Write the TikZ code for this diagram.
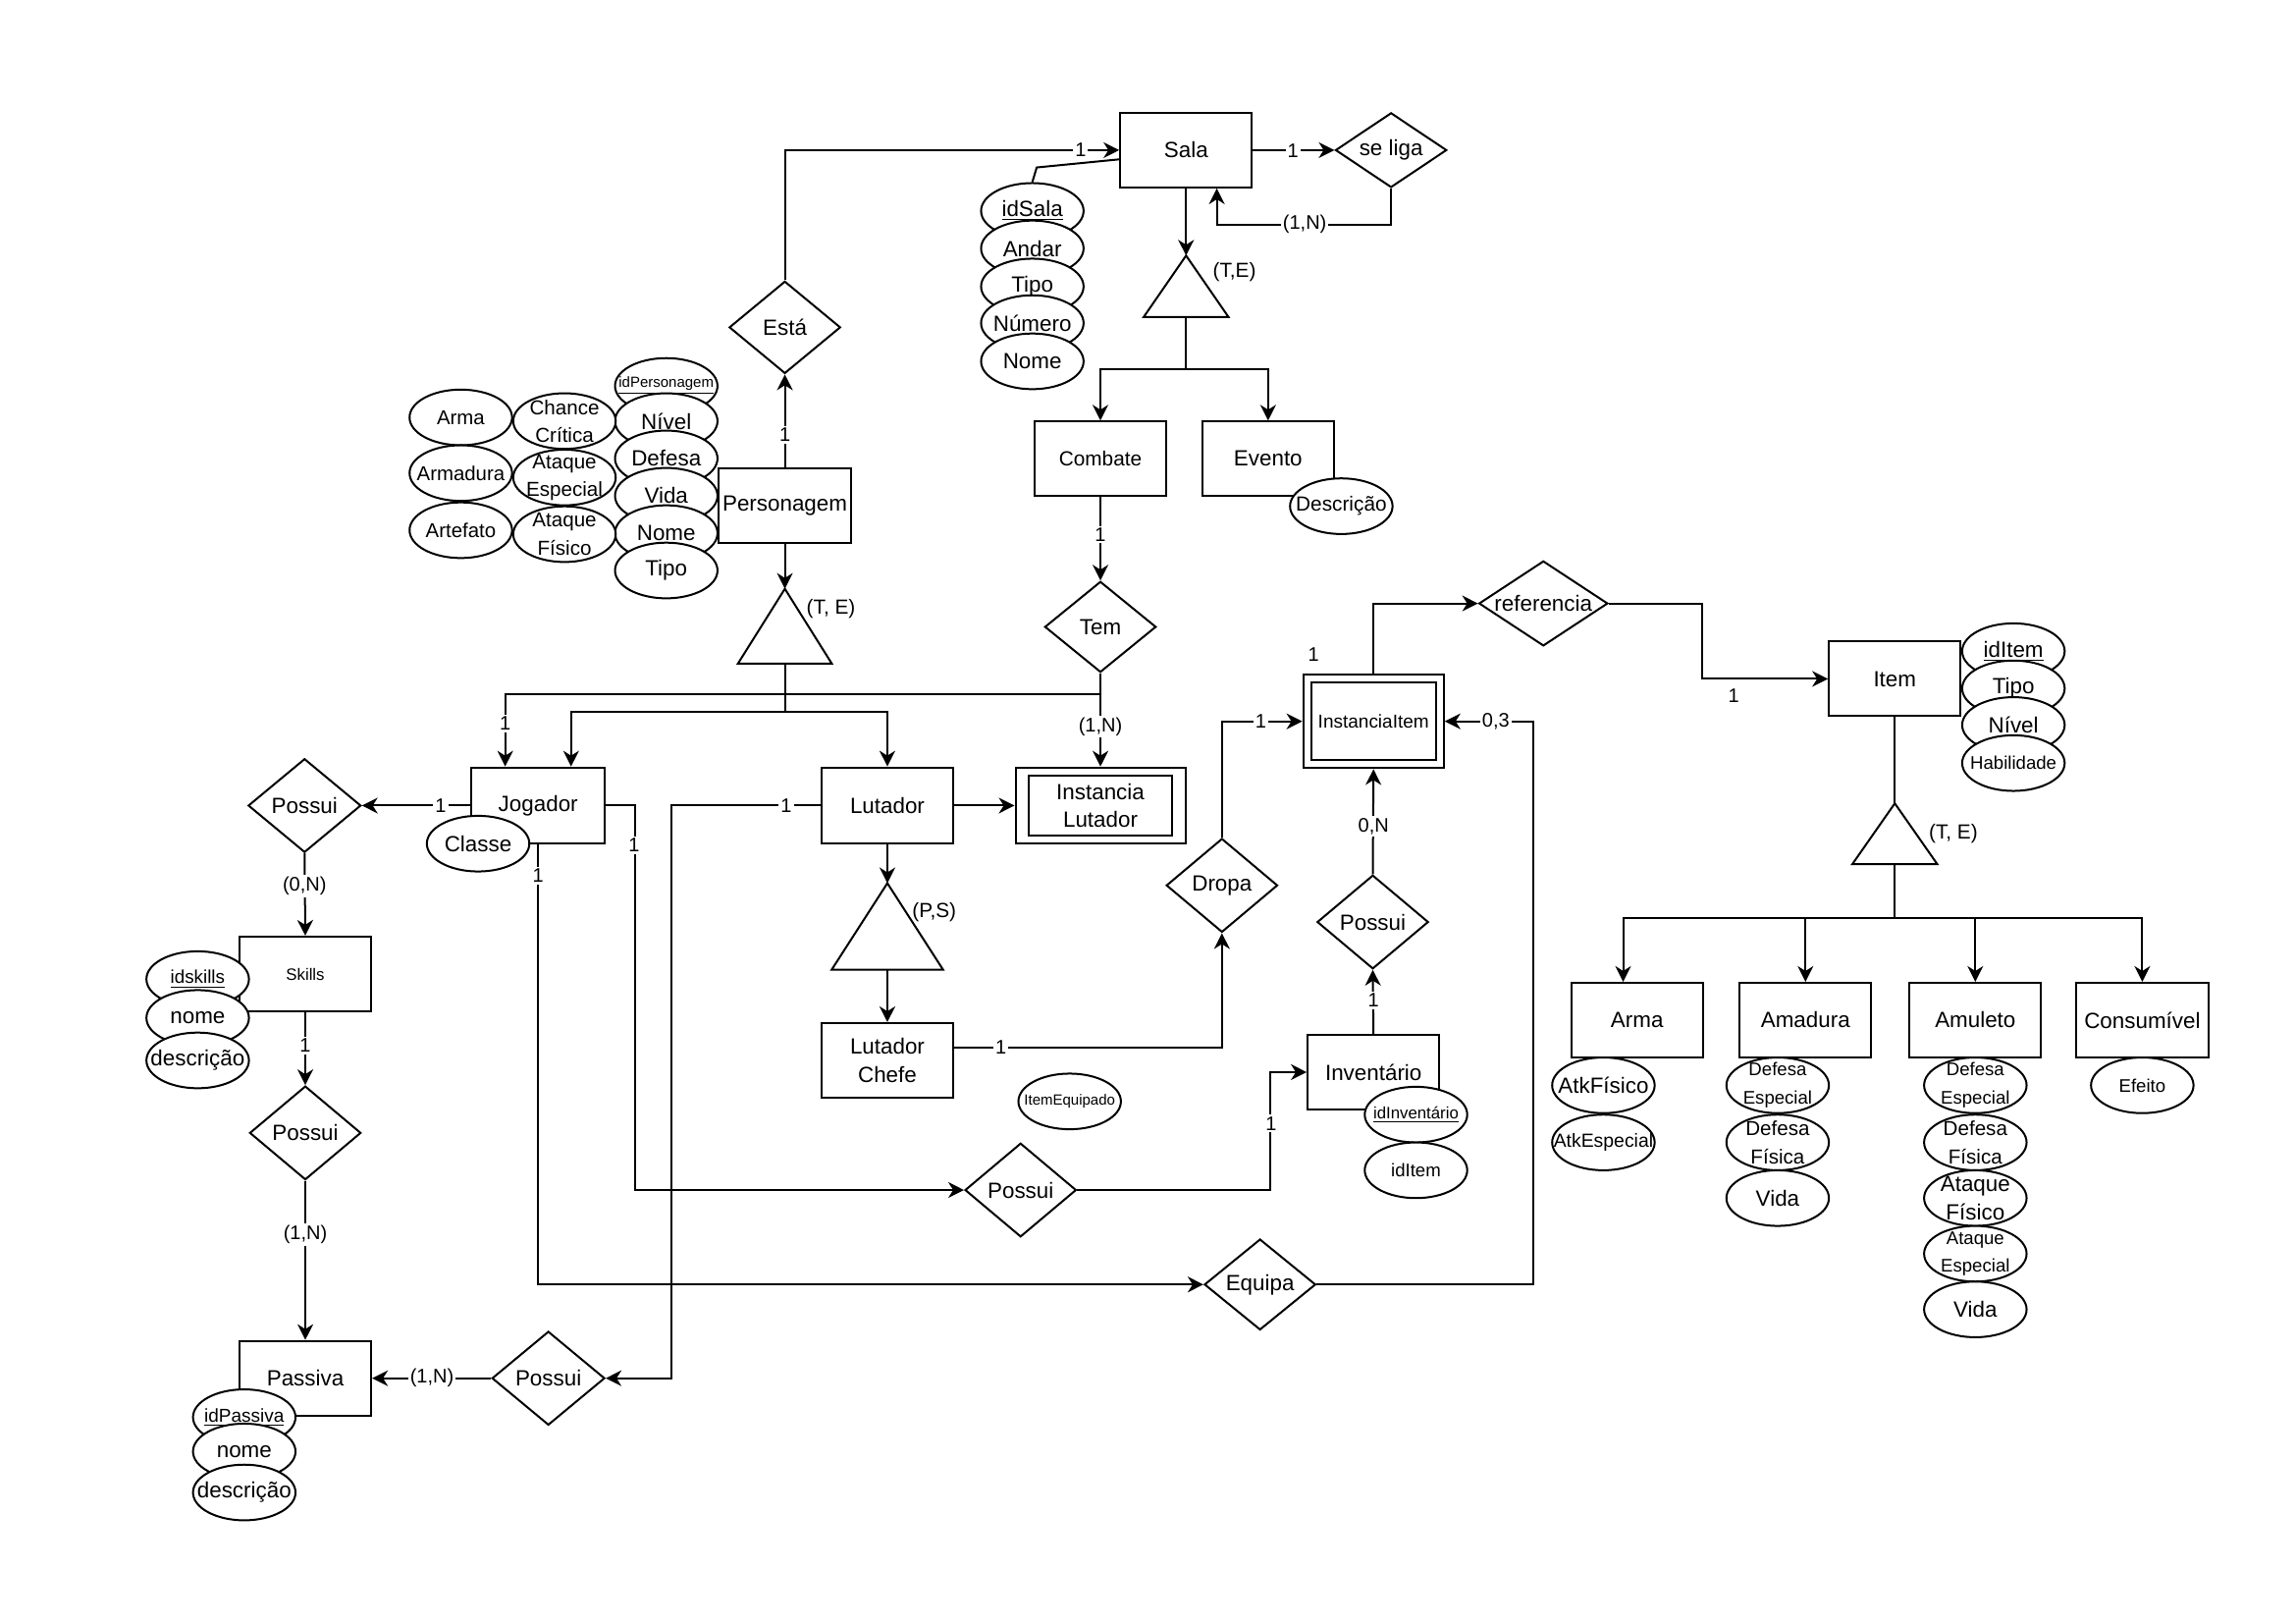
\documentclass[tikz,border=0pt]{standalone}
\usepackage{fontspec}
\setmainfont{Liberation Sans}
\usetikzlibrary{shapes.geometric,arrows.meta,calc}
\newlength\ux
\setlength\ux{0.74592pt}
\newcommand\fsz[1]{\fontsize{#1}{14.2pt}\selectfont}
\newcommand\myattr[4]{\node[att] (#1) at (#2) {};\node[atxt,font=\fsz{#3}] at (#1.center) {#4};}
\newcommand\myrel[5]{\node[rel,minimum width=#3\ux,minimum height=#4\ux] (#1) at (#2) {};\node[atxt] at (#1.center) {#5};}
\tikzset{
 cn/.style={line width=1pt, line join=miter},
 arr/.style={cn, -{Stealth[length=8pt,width=8pt,inset=2.5pt]}},
 ent/.style={draw, cn, fill=white, rectangle, minimum width=90\ux, minimum height=51\ux, inner sep=0pt, align=center, font=\fsz{11.2pt}},
 rel/.style={draw, cn, fill=white, diamond, inner sep=0pt},
 att/.style={draw, cn, fill=white, ellipse, minimum width=70\ux, minimum height=38\ux, inner sep=0pt},
 atxt/.style={inner sep=0pt, align=center, font=\fsz{11.2pt}},
 lbl/.style={fill=white, inner sep=1pt, font=\fsz{10pt}},
 gtxt/.style={inner sep=0pt, font=\fsz{10.4pt}},
}
\begin{document}
\begin{tikzpicture}[x=\ux, y=-\ux]
\fill[white] (0,0) rectangle (1568,1108);
\useasboundingbox (0,0) rectangle (1568,1108);

% ---- Sala ----
\node[ent] (sala) at (810,102.5) {Sala};
\myrel{seliga}{950,102.5}{76}{51}{se liga}
\myattr{idsala}{705,144}{11.2pt}{\underline{idSala}}
\myattr{andar}{705,169.6}{11.2pt}{Andar}
\myattr{stipo}{705,195.6}{11.2pt}{Tipo}
\myattr{snum}{705,220.6}{11.2pt}{Número}
\myattr{snome}{705,246.7}{11.2pt}{Nome}
\coordinate (sta) at (810,174.5);
\coordinate (stb) at (810,216.5);
\draw[cn] (sta) -- (839,216.5) -- (781,216.5) -- cycle;
\node[gtxt] at (843,186) {(T,E)};

\node[ent,font=\fsz{10.4pt}] (comb) at (751.5,313.3) {Combate};
\node[ent] (evt) at (866,313.3) {Evento};
\myattr{desc}{916,345.6}{10.4pt}{Descrição}
\myrel{tem}{751.5,428}{76}{62}{Tem}
\myrel{esta}{536,223.5}{76}{63}{Está}

% ---- Personagem ----
\node[ent] (pers) at (536,345.3) {Personagem};
\myattr{idpers}{455,263.5}{7.5pt}{\underline{idPersonagem}}
\myattr{pnivel}{455,287.5}{11.2pt}{Nível}
\myattr{pdef}{455,313}{11.2pt}{Defesa}
\myattr{pvida}{455,338.5}{11.2pt}{Vida}
\myattr{pnome}{455,364}{11.2pt}{Nome}
\myattr{ptipo}{455,389.5}{11.2pt}{Tipo}
\myattr{pcc}{385.5,287.5}{10.3pt}{Chance\\Crítica}
\myattr{pae}{385.5,326}{10.3pt}{Ataque\\Especial}
\myattr{paf}{385.5,364.7}{10.3pt}{Ataque\\Físico}
\myattr{parma}{314.7,285}{10.2pt}{Arma}
\myattr{parmd}{314.7,323}{10.2pt}{Armadura}
\myattr{partf}{314.7,362}{10.2pt}{Artefato}
\coordinate (pta) at (536,402);
\coordinate (ptb) at (536,453);
\draw[cn] (pta) -- (568,453) -- (504,453) -- cycle;
\node[gtxt] at (567.5,415.5) {(T, E)};

% ---- Jogador / Lutador ----
\node[ent, minimum width=91\ux, minimum height=52\ux] (jog) at (367.5,550) {Jogador};
\myattr{classe}{326.5,576}{11.2pt}{Classe}
\node[ent, minimum height=52\ux] (lut) at (606,550) {Lutador};
\node[ent, minimum width=116\ux, minimum height=52\ux] (instlut) at (751.5,550) {Instancia\\Lutador};
\draw[cn] ($(instlut.south west)+(9.5,-6)$) rectangle ($(instlut.north east)+(-9.5,6)$);
\coordinate (lta) at (606,603);
\coordinate (ltb) at (606,662);
\draw[cn] (lta) -- (644,662) -- (568,662) -- cycle;
\node[gtxt] at (638,623) {(P,S)};
\node[ent] (chefe) at (606,724) {Lutador\\Chefe};
\myrel{dropa}{834.5,604.5}{76}{64}{Dropa}

% ---- Items ----
\node[ent, minimum width=96\ux, minimum height=64\ux, font=\fsz{9.5pt}] (institem) at (938,492.5) {InstanciaItem};
\draw[cn] ($(institem.south west)+(6,-6)$) rectangle ($(institem.north east)+(-6,6)$);
\myrel{ref}{1054,412}{88}{58}{referencia}
\node[ent] (item) at (1294,463.5) {Item};
\myattr{iid}{1375,444.6}{11.2pt}{\underline{idItem}}
\myattr{itipo}{1375,470}{11.2pt}{Tipo}
\myattr{iniv}{1375,495}{11.2pt}{Nível}
\myattr{ihab}{1375,521}{9.3pt}{Habilidade}
\coordinate (ita) at (1294,548.5);
\coordinate (itb) at (1294,590);
\draw[cn] (ita) -- (1323,590) -- (1265,590) -- cycle;
\node[gtxt] at (1334,569) {(T, E)};
\node[ent] (arma) at (1118,696.5) {Arma};
\node[ent] (amad) at (1233,696.5) {Amadura};
\node[ent] (amul) at (1349,696.5) {Amuleto};
\node[ent] (cons) at (1463,696.5) {Consumível};
\myattr{aaf}{1095,741}{11.2pt}{AtkFísico}
\myattr{aae}{1095,780}{9.7pt}{AtkEspecial}
\myattr{mde}{1214,741}{9.3pt}{Defesa\\Especial}
\myattr{mdf}{1214,780}{10.3pt}{Defesa\\Física}
\myattr{mvida}{1214,818}{11.2pt}{Vida}
\myattr{ude}{1349,741}{9.3pt}{Defesa\\Especial}
\myattr{udf}{1349,780}{10.3pt}{Defesa\\Física}
\myattr{uaf}{1349,818}{11.2pt}{Ataque\\Físico}
\myattr{uae}{1349,856}{9.3pt}{Ataque\\Especial}
\myattr{uvida}{1349,894}{11.2pt}{Vida}
\myattr{cef}{1463,741}{9.3pt}{Efeito}

% ---- Inventario ----
\myrel{possinv}{937.5,629.5}{76}{64}{Possui}
\node[ent] (inv) at (938,732) {Inventário};
\myattr{idinv}{967,761}{8.4pt}{\underline{idInventário}}
\myattr{iditem}{967,799}{9.3pt}{idItem}
\myattr{itemeq}{730.5,752}{7.5pt}{ItemEquipado}

% ---- left side ----
\myrel{posstl}{208,550}{77}{64}{Possui}
\node[ent, font=\fsz{8.4pt}] (skills) at (208.5,665) {Skills};
\myattr{idsk}{135,668.5}{9.4pt}{\underline{idskills}}
\myattr{sknome}{135,695}{11.2pt}{nome}
\myattr{skdesc}{135,724}{11.2pt}{descrição}
\myrel{possml}{208.5,773.5}{76}{64}{Possui}
\node[ent] (pas) at (208.5,941) {Passiva};
\myattr{idpas}{166.8,967.6}{9.5pt}{\underline{idPassiva}}
\myattr{pasnome}{166.8,991}{11.2pt}{nome}
\myattr{pasdesc}{166.8,1019}{11.2pt}{descrição}
\myrel{possbot}{374.5,941}{77}{64}{Possui}
\myrel{possmid}{697,812.5}{76}{64}{Possui}
\myrel{equipa}{860.5,877}{76}{62}{Equipa}

% ---- connectors ----
\draw[arr] (esta.north) |- (sala.west);
\draw[cn] (idsala.north) -- ++(3,-10) -- ($(sala.west)+(0,6.3)$);
\draw[arr] (sala.east) -- (seliga.west);
\draw[arr] (seliga.south) |- ($(sala.south)+(21,25)$) -- ($(sala.south)+(21,0)$);
\draw[arr] (sala.south) -- (sta);
\draw[cn] (stb) -- ++(0,35.5) coordinate (sj);
\draw[arr] (sj) -| (comb.north);
\draw[arr] (sj) -| (evt.north);
\draw[arr] (comb.south) -- (tem.north);
\draw[arr] (tem.south) -- (instlut.north);
\draw[arr] (tem.south |- 0,474) -| ($(jog.north)+(-22.5,0)$);
\draw[arr] (pers.north) -- (esta.south);
\draw[arr] (pers.south) -- (pta);
\draw[cn] (ptb) -- ++(0,33) coordinate (pj);
\draw[arr] (pj) -| ($(jog.north)+(22.5,0)$);
\draw[arr] (pj) -| (lut.north);
\draw[arr] (lut.east) -- (instlut.west);
\draw[arr] (lut.south) -- (lta);
\draw[arr] (ltb) -- (chefe.north);
\draw[arr] ($(chefe.east)+(0,-9)$) -| (dropa.south);
\draw[arr] (dropa.north) |- (institem.west);
\draw[arr] (institem.north) |- (ref.west);
\draw[arr] (ref.east) -- ++(64,0) |- (item.west);
\draw[cn] (item.south) -- (ita);
\draw[cn] (itb) -- ++(0,37) coordinate (ij);
\draw[arr] (ij) -| ($(arma.north)+(-9.5,0)$);
\draw[arr] (ij) -| (amad.north);
\draw[arr] (ij) -| (amul.north);
\draw[arr] (ij) -| (cons.north);
\draw[arr] (possinv.north) -- (institem.south);
\draw[arr] (inv.north) -- (possinv.south);
\draw[arr] (jog.east) -- ++(20,0) |- (possmid.west);
\draw[arr] (possmid.east) -| ($(inv.west)+(-25,0)$) -- (inv.west);
\draw[arr] (jog.south) |- (equipa.west);
\draw[arr] (equipa.east) -- ++(148,0) |- (institem.east);
\draw[arr] (lut.west) -- ++(-102,0) |- (possbot.east);
\draw[arr] (possbot.west) -- (pas.east);
\draw[arr] (jog.west) -- (posstl.east);
\draw[arr] (posstl.south) -- (skills.north);
\draw[arr] (skills.south) -- (possml.north);
\draw[arr] (possml.south) -- (pas.north);

% ---- labels ----
\node[lbl] at (738,102.5) {1};
\node[lbl] at (883,103) {1};
\node[lbl] at (891,153) {(1,N)};
\node[lbl] at (536,297) {1};
\node[lbl] at (751.5,365) {1};
\node[lbl] at (751.5,496) {(1,N)};
\node[lbl] at (345,494) {1};
\node[lbl] at (301,550) {1};
\node[lbl] at (208,605) {(0,N)};
\node[lbl] at (208.5,714) {1};
\node[lbl] at (208.5,843) {(1,N)};
\node[lbl] at (295,941) {(1,N)};
\node[lbl] at (537,550) {1};
\node[lbl] at (433,577) {1};
\node[lbl] at (367.5,598) {1};
\node[lbl] at (683.5,715) {1};
\node[lbl] at (861,492.5) {1};
\node[lbl] at (897,447) {1};
\node[lbl] at (1184,475) {1};
\node[lbl] at (1021.5,492.5) {0,3};
\node[lbl] at (938,564) {0,N};
\node[lbl] at (938,683) {1};
\node[lbl] at (868,767) {1};
\end{tikzpicture}
\end{document}
